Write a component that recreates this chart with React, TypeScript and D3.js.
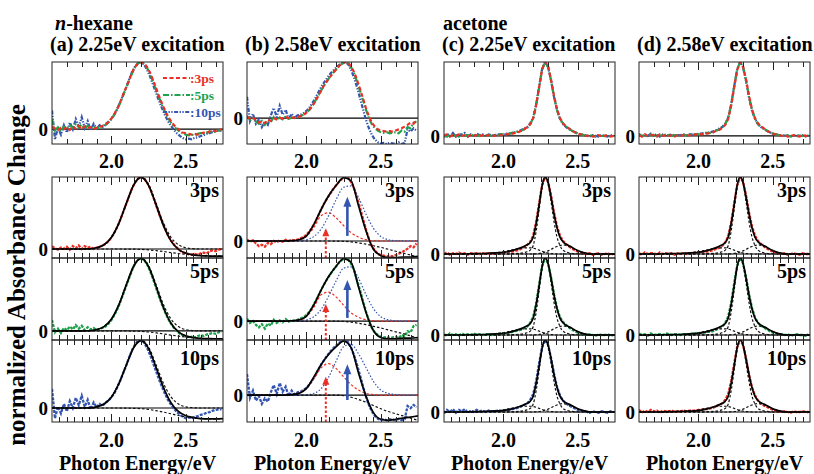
import React from "react";
import * as d3 from "d3";

// ---------- sample energies (eV) of the measured spectra ----------
const E = [
  1.60, 1.62, 1.64, 1.66, 1.68, 1.70, 1.72, 1.74, 1.76, 1.78,
  1.80, 1.82, 1.84, 1.86, 1.88, 1.90, 1.92, 1.94, 1.96, 1.98,
  2.00, 2.02, 2.04, 2.06, 2.08, 2.10, 2.12, 2.14, 2.16, 2.18,
  2.20, 2.22, 2.24, 2.26, 2.28, 2.30, 2.32, 2.34, 2.36, 2.38,
  2.40, 2.42, 2.44, 2.46, 2.48, 2.50, 2.52, 2.54, 2.56, 2.58,
  2.60, 2.62, 2.64, 2.66, 2.68, 2.70, 2.72, 2.74,
];

// (a) n-hexane, 2.25 eV excitation
const aD3 = [
  0.04, 0.01, -0.01, 0.02, 0.00, 0.03, -0.01, 0.04, 0.01, 0.05,
  0.00, 0.04, 0.02, 0.03, 0.00, 0.02, 0.03, 0.05, 0.07, 0.11,
  0.16, 0.23, 0.31, 0.41, 0.52, 0.63, 0.74, 0.85, 0.93, 0.98,
  1.00, 0.98, 0.92, 0.84, 0.73, 0.61, 0.49, 0.38, 0.28, 0.19,
  0.12, 0.06, 0.02, -0.02, -0.05, -0.06, -0.07, -0.08, -0.07, -0.08,
  -0.06, -0.05, -0.06, -0.03, -0.02, -0.03, -0.01, 0.00,
];
const aD5 = [
  0.15, -0.02, 0.03, -0.03, 0.04, 0.01, 0.06, 0.02, 0.08, 0.03,
  0.07, 0.01, 0.05, 0.02, 0.04, 0.01, 0.03, 0.04, 0.06, 0.10,
  0.15, 0.22, 0.30, 0.40, 0.51, 0.62, 0.73, 0.84, 0.93, 0.98,
  1.00, 0.97, 0.91, 0.82, 0.71, 0.59, 0.47, 0.36, 0.26, 0.17,
  0.10, 0.04, 0.00, -0.04, -0.06, -0.08, -0.09, -0.08, -0.09, -0.07,
  -0.06, -0.07, -0.05, -0.04, -0.03, -0.04, -0.02, -0.01,
];
const aD10 = [
  0.28, -0.15, 0.02, -0.08, 0.06, -0.05, 0.10, 0.00, 0.15, 0.04,
  0.18, 0.02, 0.12, -0.02, 0.08, 0.01, 0.06, 0.03, 0.08, 0.11,
  0.16, 0.22, 0.31, 0.41, 0.52, 0.63, 0.75, 0.86, 0.94, 0.99,
  1.00, 0.96, 0.88, 0.78, 0.66, 0.54, 0.42, 0.31, 0.21, 0.12,
  0.05, -0.01, -0.06, -0.10, -0.13, -0.15, -0.14, -0.15, -0.13, -0.12,
  -0.10, -0.09, -0.07, -0.06, -0.04, -0.03, -0.02, -0.02,
];

// (b) n-hexane, 2.58 eV excitation
const bD3 = [
  0.02, -0.01, 0.01, -0.04, -0.08, -0.06, -0.09, -0.03, -0.05, 0.00,
  -0.02, 0.01, -0.01, 0.02, 0.00, 0.01, 0.01, 0.02, 0.04, 0.06,
  0.10, 0.15, 0.22, 0.30, 0.40, 0.50, 0.59, 0.67, 0.74, 0.81,
  0.87, 0.93, 0.97, 1.00, 0.99, 0.92, 0.82, 0.68, 0.52, 0.35,
  0.18, 0.03, -0.08, -0.15, -0.20, -0.22, -0.23, -0.24, -0.23, -0.24,
  -0.22, -0.20, -0.18, -0.15, -0.12, -0.08, -0.10, -0.04,
];
const bD5 = [
  0.04, -0.03, 0.00, -0.06, -0.10, -0.05, -0.12, -0.04, -0.07, 0.02,
  -0.03, 0.01, -0.02, 0.03, -0.01, 0.01, 0.00, 0.02, 0.04, 0.06,
  0.10, 0.15, 0.22, 0.31, 0.40, 0.50, 0.59, 0.67, 0.74, 0.81,
  0.87, 0.93, 0.97, 1.00, 0.98, 0.91, 0.80, 0.65, 0.49, 0.32,
  0.15, 0.00, -0.11, -0.18, -0.22, -0.25, -0.26, -0.25, -0.27, -0.26,
  -0.25, -0.27, -0.22, -0.24, -0.16, -0.18, -0.08, -0.06,
];
const bD10 = [
  0.38, -0.05, 0.08, -0.10, -0.02, -0.16, -0.06, -0.12, 0.05, 0.18,
  0.02, 0.22, 0.06, 0.15, -0.02, 0.08, 0.01, 0.05, 0.06, 0.09,
  0.13, 0.19, 0.27, 0.36, 0.46, 0.56, 0.64, 0.72, 0.79, 0.85,
  0.90, 0.95, 0.98, 1.00, 0.96, 0.86, 0.72, 0.55, 0.36, 0.16,
  -0.03, -0.18, -0.30, -0.38, -0.43, -0.45, -0.44, -0.46, -0.44, -0.45,
  -0.46, -0.43, -0.46, -0.44, -0.20, -0.24, -0.18, -0.22,
];

// (c) acetone, 2.25 eV excitation
const cD3 = [
  0.00, 0.02, -0.01, 0.01, 0.00, 0.02, 0.00, 0.01, -0.01, 0.01,
  0.00, 0.01, 0.00, 0.01, 0.00, 0.01, 0.01, 0.00, 0.01, 0.01,
  0.02, 0.02, 0.03, 0.03, 0.04, 0.05, 0.07, 0.09, 0.12, 0.16,
  0.24, 0.42, 0.66, 0.90, 1.00, 0.94, 0.76, 0.54, 0.36, 0.24,
  0.17, 0.13, 0.10, 0.07, 0.05, 0.03, 0.02, 0.01, 0.00, 0.01,
  -0.01, 0.00, 0.01, -0.01, 0.00, 0.01, -0.01, 0.00,
];
const cD5 = [
  0.01, -0.01, 0.02, 0.00, 0.01, -0.01, 0.02, 0.00, 0.01, 0.00,
  0.02, 0.00, 0.01, 0.00, 0.01, 0.01, 0.00, 0.01, 0.01, 0.02,
  0.02, 0.02, 0.03, 0.04, 0.05, 0.06, 0.07, 0.09, 0.11, 0.16,
  0.24, 0.41, 0.66, 0.90, 1.00, 0.93, 0.75, 0.53, 0.35, 0.23,
  0.17, 0.13, 0.10, 0.07, 0.05, 0.03, 0.02, 0.01, 0.00, 0.01,
  0.00, -0.01, 0.01, 0.00, 0.00, 0.01, -0.01, 0.00,
];
const cD10 = [
  -0.02, 0.03, 0.00, 0.04, -0.01, 0.03, 0.01, 0.04, -0.01, 0.02,
  0.00, 0.03, 0.01, 0.02, 0.00, 0.02, 0.01, 0.01, 0.02, 0.02,
  0.02, 0.03, 0.03, 0.04, 0.05, 0.06, 0.08, 0.10, 0.12, 0.17,
  0.25, 0.43, 0.68, 0.91, 1.00, 0.93, 0.75, 0.53, 0.35, 0.23,
  0.16, 0.12, 0.09, 0.07, 0.05, 0.03, 0.02, 0.01, 0.00, -0.01,
  0.01, 0.00, -0.01, 0.01, 0.00, -0.01, 0.01, 0.00,
];

// (d) acetone, 2.58 eV excitation
const dD3 = [
  0.01, -0.01, 0.02, 0.00, 0.01, 0.01, -0.01, 0.02, 0.00, 0.01,
  0.00, 0.01, -0.01, 0.01, 0.00, 0.01, 0.00, 0.01, 0.01, 0.02,
  0.02, 0.02, 0.03, 0.03, 0.04, 0.05, 0.07, 0.08, 0.11, 0.15,
  0.23, 0.41, 0.65, 0.89, 1.00, 0.94, 0.76, 0.54, 0.36, 0.24,
  0.17, 0.13, 0.10, 0.07, 0.05, 0.03, 0.02, 0.01, 0.00, 0.01,
  -0.01, 0.00, 0.01, 0.00, -0.01, 0.01, 0.00, 0.00,
];
const dD5 = [
  0.02, 0.00, 0.01, -0.01, 0.02, 0.00, 0.01, 0.01, 0.00, 0.02,
  0.01, 0.00, 0.01, 0.01, 0.00, 0.01, 0.01, 0.01, 0.02, 0.02,
  0.02, 0.03, 0.03, 0.04, 0.04, 0.05, 0.07, 0.09, 0.11, 0.16,
  0.24, 0.42, 0.67, 0.90, 1.00, 0.93, 0.75, 0.53, 0.35, 0.23,
  0.16, 0.12, 0.10, 0.07, 0.05, 0.03, 0.02, 0.01, 0.01, 0.00,
  0.01, -0.01, 0.00, 0.01, 0.00, 0.00, -0.01, 0.01,
];
const dD10 = [
  0.03, -0.01, 0.02, 0.00, 0.03, 0.01, 0.02, -0.01, 0.02, 0.01,
  0.01, 0.02, 0.00, 0.01, 0.01, 0.02, 0.01, 0.02, 0.02, 0.02,
  0.03, 0.03, 0.04, 0.04, 0.05, 0.06, 0.08, 0.10, 0.12, 0.17,
  0.25, 0.43, 0.67, 0.90, 1.00, 0.93, 0.74, 0.52, 0.34, 0.23,
  0.16, 0.12, 0.09, 0.07, 0.05, 0.03, 0.02, 0.01, 0.00, 0.01,
  0.00, -0.01, 0.01, 0.00, 0.00, 0.01, 0.00, 0.00,
];

// ---------- fit curves, n-hexane (energies FX) ----------
const FX = [
  1.60, 1.65, 1.70, 1.75, 1.80, 1.85, 1.90, 1.95, 2.00, 2.05, 2.10, 2.15,
  2.20, 2.25, 2.30, 2.35, 2.40, 2.45, 2.50, 2.55, 2.60, 2.65, 2.70, 2.75,
];
const aG = [0, 0, 0, 0, 0, 0.002, 0.017, 0.059, 0.163, 0.36, 0.635, 0.893, 1.0, 0.893, 0.635, 0.36, 0.163, 0.059, 0.017, 0.004, 0, 0, 0, 0];
const aN3 = [0, 0, 0, 0, 0, 0, 0, 0, 0, 0, -0.001, -0.002, -0.005, -0.012, -0.022, -0.035, -0.05, -0.063, -0.075, -0.085, -0.092, -0.097, -0.1, -0.1];
const aT3 = [0, 0, 0, 0, 0, 0.002, 0.017, 0.059, 0.163, 0.36, 0.634, 0.891, 0.995, 0.881, 0.613, 0.325, 0.113, -0.004, -0.058, -0.081, -0.092, -0.097, -0.1, -0.1];
const aN5 = [0, 0, 0, 0, 0, 0, 0, 0, 0, 0, -0.001, -0.003, -0.007, -0.015, -0.027, -0.042, -0.058, -0.072, -0.085, -0.095, -0.102, -0.106, -0.108, -0.108];
const aT5 = [0, 0, 0, 0, 0, 0.002, 0.017, 0.059, 0.163, 0.36, 0.634, 0.89, 0.993, 0.878, 0.608, 0.318, 0.105, -0.013, -0.068, -0.091, -0.102, -0.106, -0.108, -0.108];
const aN10 = [0, 0, 0, 0, 0, 0, 0, 0, 0, 0, -0.002, -0.005, -0.01, -0.02, -0.04, -0.06, -0.085, -0.11, -0.13, -0.145, -0.155, -0.16, -0.16, -0.155];
const aT10 = [0, 0, 0, 0, 0, 0.002, 0.017, 0.059, 0.163, 0.36, 0.633, 0.888, 0.99, 0.873, 0.595, 0.3, 0.078, -0.051, -0.113, -0.141, -0.155, -0.16, -0.16, -0.155];

const bT3 = [0, 0, 0, 0, 0, 0, 0.005, 0.02, 0.08, 0.26, 0.5, 0.71, 0.87, 0.99, 0.94, 0.55, 0.16, -0.13, -0.23, -0.26, -0.26, -0.25, -0.25, -0.24];
const bR3 = [0, 0, 0, 0, 0, 0.003, 0.008, 0.02, 0.07, 0.21, 0.4, 0.44, 0.36, 0.24, 0.13, 0.06, 0.02, 0.005, 0, 0, 0, 0, 0, 0];
const bB3 = [0, 0, 0, 0, 0, 0, 0, 0.005, 0.02, 0.07, 0.19, 0.4, 0.65, 0.84, 0.86, 0.68, 0.42, 0.2, 0.07, 0.02, 0.005, 0, 0, 0];
const bN3 = [0, 0, 0, 0, 0, 0, 0, 0, 0, 0, 0, 0, -0.002, -0.005, -0.015, -0.03, -0.05, -0.075, -0.1, -0.13, -0.16, -0.19, -0.22, -0.25];
const bT5 = [0, 0, 0, 0, 0, 0, 0.005, 0.02, 0.08, 0.26, 0.5, 0.71, 0.87, 0.99, 0.93, 0.54, 0.14, -0.15, -0.26, -0.28, -0.28, -0.27, -0.27, -0.26];
const bR5 = [0, 0, 0, 0, 0, 0.003, 0.008, 0.02, 0.07, 0.22, 0.42, 0.46, 0.38, 0.25, 0.13, 0.06, 0.02, 0.005, 0, 0, 0, 0, 0, 0];
const bB5 = [0, 0, 0, 0, 0, 0, 0, 0.005, 0.02, 0.07, 0.19, 0.4, 0.64, 0.84, 0.86, 0.68, 0.42, 0.2, 0.07, 0.02, 0.005, 0, 0, 0];
const bN5 = [0, 0, 0, 0, 0, 0, 0, 0, 0, 0, 0, 0, -0.002, -0.006, -0.017, -0.034, -0.056, -0.083, -0.11, -0.14, -0.17, -0.2, -0.235, -0.27];
const bT10 = [0, 0, 0, 0, 0, 0, 0.008, 0.03, 0.12, 0.33, 0.56, 0.74, 0.88, 0.98, 0.86, 0.4, -0.02, -0.32, -0.44, -0.46, -0.44, -0.42, -0.4, -0.38];
const bR10 = [0, 0, 0, 0, 0, 0.004, 0.01, 0.04, 0.12, 0.3, 0.5, 0.57, 0.48, 0.33, 0.19, 0.09, 0.03, 0.01, 0, 0, 0, 0, 0, 0];
const bB10 = [0, 0, 0, 0, 0, 0, 0, 0, 0.005, 0.03, 0.12, 0.33, 0.62, 0.88, 0.92, 0.75, 0.5, 0.25, 0.09, 0.03, 0.01, 0, 0, 0];
const bN10 = [0, 0, 0, 0, 0, 0, 0, 0, 0, 0, 0, 0, 0, -0.01, -0.04, -0.08, -0.13, -0.19, -0.25, -0.3, -0.34, -0.38, -0.42, -0.46];

// ---------- fit curves, acetone (energies CFX) ----------
const CFX = [
  1.60, 1.70, 1.80, 1.90, 2.00, 2.05, 2.10, 2.15, 2.18, 2.20, 2.22, 2.24, 2.26,
  2.28, 2.30, 2.32, 2.34, 2.36, 2.38, 2.40, 2.45, 2.50, 2.55, 2.60, 2.70, 2.75,
];
const cT = [0, 0, 0.005, 0.01, 0.02, 0.04, 0.07, 0.11, 0.15, 0.22, 0.4, 0.64, 0.89, 1.0, 0.93, 0.74, 0.52, 0.34, 0.22, 0.16, 0.1, 0.045, 0.012, 0, 0, 0];
const cM = [0, 0, 0, 0, 0, 0.003, 0.008, 0.025, 0.05, 0.11, 0.3, 0.58, 0.87, 1.0, 0.91, 0.68, 0.42, 0.22, 0.11, 0.05, 0.01, 0.002, 0, 0, 0, 0];
const cL = [0, 0, 0.002, 0.01, 0.03, 0.05, 0.07, 0.08, 0.08, 0.075, 0.065, 0.05, 0.035, 0.022, 0.012, 0.006, 0.003, 0, 0, 0, 0, 0, 0, 0, 0, 0];
const cR = [0, 0, 0, 0, 0, 0, 0, 0, 0, 0, 0.003, 0.007, 0.014, 0.025, 0.04, 0.06, 0.08, 0.097, 0.11, 0.118, 0.09, 0.04, 0.012, 0.003, 0, 0];

// ---------- arrows in (b) ----------
const redArrowE = 2.13;
const blueArrowE = 2.275;
const redArrowTop = [0.2, 0.27, 0.33];
const blueArrowBase = [0.08, 0.05, -0.09];
const blueArrowTop = [0.69, 0.65, 0.56];

// ---------- labels ----------
const solvents = ["n-hexane", "acetone"];
const titles = ["(a) 2.25eV excitation", "(b) 2.58eV excitation", "(c) 2.25eV excitation", "(d) 2.58eV excitation"];
const delays = ["3ps", "5ps", "10ps"];
const xTickLabels = [2.0, 2.5];
const xTitle = "Photon Energy/eV";
const yTitle = "normalized Absorbance Change";

// ---------- layout ----------
const W = 814, H = 474;
const X_DOMAIN: [number, number] = [1.6, 2.75];
const COL_LEFT = [52, 247, 444, 639];
const PW = 171;
const TOP_Y = 62, TOP_H = 82;
const LOW_TOPS = [177, 258, 340];
const LOW_HS = [81, 82, 82];
const TOP_YMIN = [-0.22, -0.46, -0.11, -0.11];
const LOW_YMIN = [
  [-0.125, -0.125, -0.206],
  [-0.266, -0.3, -0.49],
  [-0.052, -0.065, -0.139],
  [-0.052, -0.065, -0.139],
];

const RED = "#ec2f26";
const GREEN = "#1fa24b";
const BLUE = "#3456b0";
const FONT = "'Liberation Serif','Times New Roman',serif";

const dataByCol = [
  [aD3, aD5, aD10],
  [bD3, bD5, bD10],
  [cD3, cD5, cD10],
  [dD3, dD5, dD10],
];
const lowerColors = [
  [RED, GREEN, BLUE],
  [RED, GREEN, BLUE],
  [RED, GREEN, BLUE],
  [RED, GREEN, RED],
];
const topStyles = [
  { color: RED, dash: "4 2.5" },
  { color: GREEN, dash: "6 2 1.5 2" },
  { color: BLUE, dash: "4 1.5 1.3 1.5 1.3 1.5" },
];

type Comp = { y: number[]; color: string; dash: string };
type Fit = { fx: number[]; total: number[]; comps: Comp[] };
const BK = "#111";
const fits: Fit[][] = [
  [
    { fx: FX, total: aT3, comps: [{ y: aG, color: BK, dash: "2.5 2" }, { y: aN3, color: BK, dash: "2.5 2" }] },
    { fx: FX, total: aT5, comps: [{ y: aG, color: BK, dash: "2.5 2" }, { y: aN5, color: BK, dash: "2.5 2" }] },
    { fx: FX, total: aT10, comps: [{ y: aG, color: BK, dash: "2.5 2" }, { y: aN10, color: BK, dash: "2.5 2" }] },
  ],
  [
    { fx: FX, total: bT3, comps: [{ y: bR3, color: RED, dash: "2.5 2" }, { y: bB3, color: BLUE, dash: "1.5 1.8" }, { y: bN3, color: BK, dash: "2.5 2" }] },
    { fx: FX, total: bT5, comps: [{ y: bR5, color: RED, dash: "2.5 2" }, { y: bB5, color: BLUE, dash: "1.5 1.8" }, { y: bN5, color: BK, dash: "2.5 2" }] },
    { fx: FX, total: bT10, comps: [{ y: bR10, color: RED, dash: "2.5 2" }, { y: bB10, color: BLUE, dash: "1.5 1.8" }, { y: bN10, color: BK, dash: "2.5 2" }] },
  ],
  [0, 1, 2].map(() => ({ fx: CFX, total: cT, comps: [cM, cL, cR].map((y) => ({ y, color: BK, dash: "2.5 2" })) })),
  [0, 1, 2].map(() => ({ fx: CFX, total: cT, comps: [cM, cL, cR].map((y) => ({ y, color: BK, dash: "2.5 2" })) })),
];

const textStyle: React.CSSProperties = { fontFamily: FONT, fontWeight: "bold" };

function Frame({ x0, y0, h, step, xs }: { x0: number; y0: number; h: number; step: number; xs: d3.ScaleLinear<number, number> }) {
  const ticks = d3.range(X_DOMAIN[0] + step, X_DOMAIN[1] - 1e-6, step);
  return (
    <g>
      <rect x={x0} y={y0} width={PW} height={h} fill="none" stroke="#222" strokeWidth={1} />
      {ticks.map((t, i) => {
        const major = Math.abs(t - 2.0) < 1e-6 || Math.abs(t - 2.5) < 1e-6;
        const len = major ? 8 : 5;
        const xx = Math.round(xs(t)) + 0.5;
        return (
          <g key={i}>
            <line x1={xx} x2={xx} y1={y0} y2={y0 + len} stroke="#222" strokeWidth={1} />
            <line x1={xx} x2={xx} y1={y0 + h} y2={y0 + h - len} stroke="#222" strokeWidth={1} />
          </g>
        );
      })}
    </g>
  );
}

export default function App() {
  const panels: React.ReactNode[] = [];
  const defs: React.ReactNode[] = [];

  COL_LEFT.forEach((x0, col) => {
    const xs = d3.scaleLinear().domain(X_DOMAIN).range([x0, x0 + PW]);

    // ---- top overlay panel ----
    const ysT = d3.scaleLinear().domain([TOP_YMIN[col], 1.0]).range([TOP_Y + TOP_H, TOP_Y]);
    const clipT = `clip-t-${col}`;
    defs.push(
      <clipPath id={clipT} key={clipT}>
        <rect x={x0} y={TOP_Y} width={PW} height={TOP_H} />
      </clipPath>
    );
    const lineT = d3.line<number>().x((_, i) => xs(E[i])).y((d) => ysT(d));
    panels.push(
      <g key={`top-${col}`}>
        <g clipPath={`url(#${clipT})`}>
          <line x1={x0} x2={x0 + PW} y1={ysT(0)} y2={ysT(0)} stroke="#000" strokeWidth={1.2} />
          {[2, 1, 0].map((t) => (
            <path key={t} d={lineT(dataByCol[col][t]) || ""} fill="none" stroke={topStyles[t].color} strokeWidth={2.2} strokeDasharray={topStyles[t].dash} />
          ))}
        </g>
        <Frame x0={x0} y0={TOP_Y} h={TOP_H} step={0.1} xs={xs} />
        <text x={x0 - 4} y={ysT(0)} dy="0.35em" textAnchor="end" fontSize={19} style={textStyle}>0</text>
        {xTickLabels.map((v) => (
          <text key={v} x={xs(v)} y={168} textAnchor="middle" fontSize={20} style={textStyle}>{v.toFixed(1)}</text>
        ))}
        <text x={x0 - 2} y={51} fontSize={20} style={textStyle}>{titles[col]}</text>
      </g>
    );

    // ---- lower stacked panels ----
    LOW_TOPS.forEach((y0, row) => {
      const h = LOW_HS[row];
      const ys = d3.scaleLinear().domain([LOW_YMIN[col][row], 1.0]).range([y0 + h, y0]);
      const clip = `clip-${col}-${row}`;
      defs.push(
        <clipPath id={clip} key={clip}>
          <rect x={x0} y={y0} width={PW} height={h} />
        </clipPath>
      );
      const lineD = d3.line<number>().x((_, i) => xs(E[i])).y((d) => ys(d));
      const fit = fits[col][row];
      const lineF = d3.line<number>().x((_, i) => xs(fit.fx[i])).y((d) => ys(d)).curve(d3.curveMonotoneX);

      let arrows: React.ReactNode = null;
      if (col === 1) {
        const rx = xs(redArrowE);
        const rt = ys(redArrowTop[row]);
        const bx = xs(blueArrowE);
        const bb = ys(blueArrowBase[row]);
        const bt = ys(blueArrowTop[row]);
        arrows = (
          <g>
            <line x1={rx} x2={rx} y1={y0 + h} y2={rt + 6} stroke={RED} strokeWidth={2} strokeDasharray="2.5 2" />
            <path d={`M${rx},${rt} L${rx - 3.5},${rt + 8} L${rx + 3.5},${rt + 8} Z`} fill={RED} />
            <line x1={bx} x2={bx} y1={bb} y2={bt + 7} stroke={BLUE} strokeWidth={2.6} />
            <path d={`M${bx},${bt} L${bx - 4},${bt + 10} L${bx + 4},${bt + 10} Z`} fill={BLUE} />
          </g>
        );
      }

      panels.push(
        <g key={`low-${col}-${row}`}>
          <g clipPath={`url(#${clip})`}>
            <line x1={x0} x2={x0 + PW} y1={ys(0)} y2={ys(0)} stroke="#000" strokeWidth={1.2} />
            <path d={lineD(dataByCol[col][row]) || ""} fill="none" stroke={lowerColors[col][row]} strokeWidth={2.3} strokeDasharray="3 1.2" />
            {fit.comps.map((c, k) => (
              <path key={k} d={lineF(c.y) || ""} fill="none" stroke={c.color} strokeWidth={1.2} strokeDasharray={c.dash} />
            ))}
            <path d={lineF(fit.total) || ""} fill="none" stroke="#000" strokeWidth={1.7} />
          </g>
          {arrows}
          <Frame x0={x0} y0={y0} h={h} step={0.05} xs={xs} />
          <text x={x0 - 4} y={ys(0)} dy="0.35em" textAnchor="end" fontSize={19} style={textStyle}>0</text>
          <text x={x0 + PW - 4} y={y0 + (row === 2 ? 25 : 20)} textAnchor="end" fontSize={20} style={textStyle}>{delays[row]}</text>
        </g>
      );
    });

    panels.push(
      <g key={`xax-${col}`}>
        {xTickLabels.map((v) => (
          <text key={v} x={xs(v)} y={447} textAnchor="middle" fontSize={20} style={textStyle}>{v.toFixed(1)}</text>
        ))}
        <text x={x0 + PW / 2} y={470} textAnchor="middle" fontSize={20} style={textStyle}>{xTitle}</text>
      </g>
    );
  });

  // legend in panel (a) top
  const legendY = [78, 95, 112];
  const legend = delays.map((d, t) => (
    <g key={d}>
      <line x1={163} x2={190} y1={legendY[t]} y2={legendY[t]} stroke={topStyles[t].color} strokeWidth={2.2} strokeDasharray={topStyles[t].dash} />
      <text x={190} y={legendY[t] + 4.5} fontSize={13.5} fill={topStyles[t].color} style={textStyle}>{":" + d}</text>
    </g>
  ));

  return (
    <svg width={W} height={H} viewBox={`0 0 ${W} ${H}`} style={{ display: "block", position: "absolute", left: 0, top: 0, background: "#fff" }}>
      <defs>{defs}</defs>
      <rect x={0} y={0} width={W} height={H} fill="#fff" />
      <text x={55} y={30} fontSize={20} style={textStyle}>
        <tspan fontStyle="italic">n</tspan>
        {solvents[0].slice(1)}
      </text>
      <text x={443} y={30} fontSize={20} style={textStyle}>{solvents[1]}</text>
      <text transform={`translate(25,275) rotate(-90)`} textAnchor="middle" fontSize={25} style={textStyle}>{yTitle}</text>
      {panels}
      {legend}
    </svg>
  );
}
